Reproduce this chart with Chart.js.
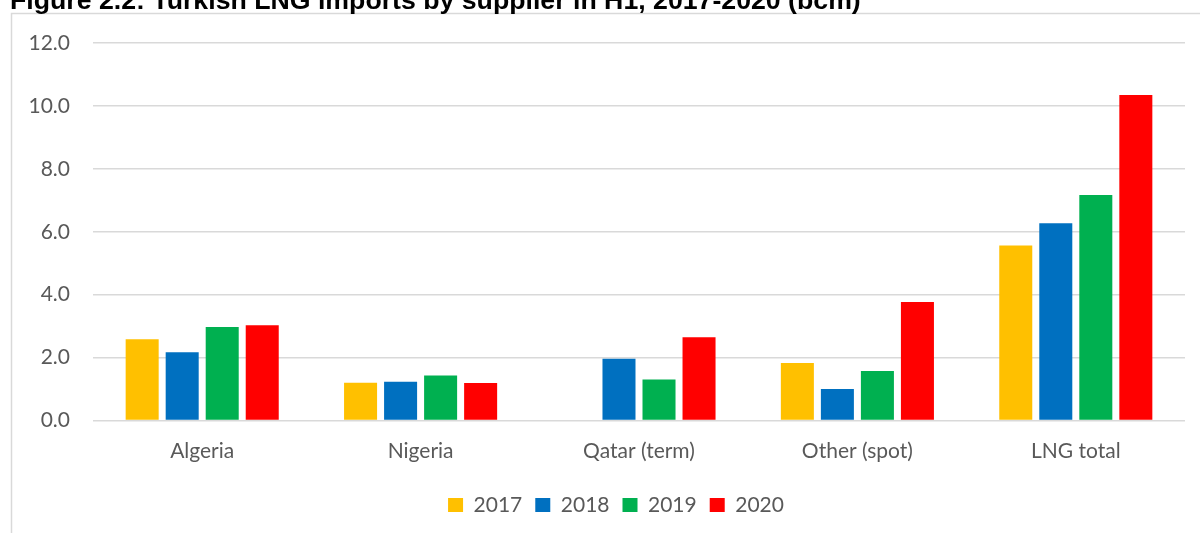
<!DOCTYPE html>
<html>
<head>
<meta charset="utf-8">
<script src="https://cdn.jsdelivr.net/npm/chart.js@4.4.0/dist/chart.umd.min.js"></script>
<style>
  html, body { margin: 0; padding: 0; background: #fff; }
  #wrap { position: relative; width: 1200px; height: 533px; overflow: hidden; }
</style>
</head>
<body>
<div id="wrap"><canvas id="lngChart" width="1200" height="533"></canvas></div>
<script>
// Turkish LNG imports by supplier, bcm
const suppliers = ['Algeria', 'Nigeria', 'Qatar (term)', 'Other (spot)', 'LNG total'];
const years = ['2017', '2018', '2019', '2020'];
const imports2017 = [2.58, 1.20, null, 1.83, 5.56];
const imports2018 = [2.17, 1.23, 1.96, 1.00, 6.27];
const imports2019 = [2.97, 1.43, 1.30, 1.57, 7.17];
const imports2020 = [3.03, 1.19, 2.65, 3.77, 10.35];
const yearColors = ['#FFC000', '#0070C0', '#00B050', '#FF0000'];

const titleText = 'Figure 2.2: Turkish LNG imports by supplier in H1, 2017-2020 (bcm)';
const labelFont = { family: 'Lato', size: 21 };

// outer frame + figure caption (caption sits partly above the canvas edge)
const framePlugin = {
    id: 'frameAndTitle',
    afterLayout(chart) {
        // centre the legend on the whole frame, not on the canvas
        chart.legend.left = 47;
        chart.legend.right = 1185;
    },
    beforeDraw(chart) {
        const ctx = chart.ctx;
        ctx.save();
        ctx.strokeStyle = '#d9d9d9';
        ctx.lineWidth = 1.5;
        ctx.beginPath();
        ctx.moveTo(11.5, 540);
        ctx.lineTo(11.5, 13.5);
        ctx.lineTo(1210, 13.5);
        ctx.stroke();
        ctx.fillStyle = '#000';
        ctx.font = 'bold 26.7px "Liberation Sans", Arial, sans-serif';
        ctx.textBaseline = 'alphabetic';
        ctx.fillText(titleText, 10, 8.5);
        ctx.restore();
    }
};

const series = [imports2017, imports2018, imports2019, imports2020];

new Chart(document.getElementById('lngChart'), {
    type: 'bar',
    data: {
        labels: suppliers,
        datasets: years.map((y, i) => ({
            label: y,
            data: series[i],
            backgroundColor: yearColors[i],
            borderWidth: 0,
            categoryPercentage: 0.733,
            barPercentage: 0.825,
        })),
    },
    options: {
        responsive: false,
        animation: false,
        layout: { padding: { top: 43, right: 15, bottom: 7.5, left: 0 } },
        plugins: {
            legend: {
                position: 'bottom',
                labels: {
                    boxWidth: 15,
                    boxHeight: 14,
                    padding: 13,
                    color: '#595959',
                    font: labelFont,
                },
            },
            tooltip: { enabled: false },
        },
        scales: {
            x: {
                grid: { display: false, drawTicks: false },
                border: { display: false },
                ticks: { color: '#595959', font: labelFont, padding: 18 },
                afterFit(scale) { scale.height = 61; },
            },
            y: {
                min: 0,
                max: 12,
                grid: { color: '#d9d9d9', lineWidth: 1.5, drawTicks: false },
                border: { display: false },
                ticks: {
                    stepSize: 2,
                    color: '#595959',
                    font: labelFont,
                    padding: 23,
                    callback: (v) => v.toFixed(1),
                },
                afterFit(scale) { scale.width = 93; },
            },
        },
    },
    plugins: [framePlugin],
});
</script>
</body>
</html>
